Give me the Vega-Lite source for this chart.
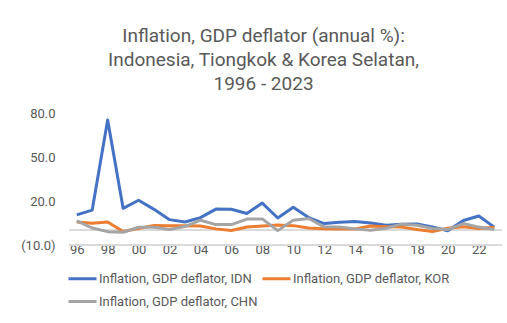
{
  "$schema": "https://vega.github.io/schema/vega-lite/v6.json",
  "autosize": {"type": "none"},
  "width": 433,
  "height": 132,
  "padding": {"left": 69, "top": 113, "right": 5, "bottom": 78},
  "background": "white",
  "config": {
    "font": "Roboto",
    "view": {"stroke": null},
    "axis": {"labelFont": "Roboto", "labelColor": "#595959", "labelFontSize": 13}
  },
  "title": {
    "text": ["Inflation, GDP deflator (annual %):", "Indonesia, Tiongkok & Korea Selatan,", "1996 - 2023"],
    "font": "Roboto",
    "fontSize": 19,
    "fontWeight": "normal",
    "color": "#595959",
    "lineHeight": 24,
    "anchor": "middle",
    "dx": -22,
    "offset": 13
  },
  "data": {
    "values": [
      {"year": 1996, "series": "Inflation, GDP deflator, IDN", "value": 10.5},
      {"year": 1997, "series": "Inflation, GDP deflator, IDN", "value": 13.8},
      {"year": 1998, "series": "Inflation, GDP deflator, IDN", "value": 75.3},
      {"year": 1999, "series": "Inflation, GDP deflator, IDN", "value": 15.0},
      {"year": 2000, "series": "Inflation, GDP deflator, IDN", "value": 20.5},
      {"year": 2001, "series": "Inflation, GDP deflator, IDN", "value": 14.3},
      {"year": 2002, "series": "Inflation, GDP deflator, IDN", "value": 7.3},
      {"year": 2003, "series": "Inflation, GDP deflator, IDN", "value": 5.7},
      {"year": 2004, "series": "Inflation, GDP deflator, IDN", "value": 8.7},
      {"year": 2005, "series": "Inflation, GDP deflator, IDN", "value": 14.5},
      {"year": 2006, "series": "Inflation, GDP deflator, IDN", "value": 14.4},
      {"year": 2007, "series": "Inflation, GDP deflator, IDN", "value": 11.5},
      {"year": 2008, "series": "Inflation, GDP deflator, IDN", "value": 18.6},
      {"year": 2009, "series": "Inflation, GDP deflator, IDN", "value": 8.4},
      {"year": 2010, "series": "Inflation, GDP deflator, IDN", "value": 15.8},
      {"year": 2011, "series": "Inflation, GDP deflator, IDN", "value": 8.7},
      {"year": 2012, "series": "Inflation, GDP deflator, IDN", "value": 4.6},
      {"year": 2013, "series": "Inflation, GDP deflator, IDN", "value": 5.5},
      {"year": 2014, "series": "Inflation, GDP deflator, IDN", "value": 6.0},
      {"year": 2015, "series": "Inflation, GDP deflator, IDN", "value": 5.0},
      {"year": 2016, "series": "Inflation, GDP deflator, IDN", "value": 3.4},
      {"year": 2017, "series": "Inflation, GDP deflator, IDN", "value": 4.2},
      {"year": 2018, "series": "Inflation, GDP deflator, IDN", "value": 4.4},
      {"year": 2019, "series": "Inflation, GDP deflator, IDN", "value": 2.3},
      {"year": 2020, "series": "Inflation, GDP deflator, IDN", "value": -0.3},
      {"year": 2021, "series": "Inflation, GDP deflator, IDN", "value": 6.7},
      {"year": 2022, "series": "Inflation, GDP deflator, IDN", "value": 9.8},
      {"year": 2023, "series": "Inflation, GDP deflator, IDN", "value": 2.2},
      {"year": 1996, "series": "Inflation, GDP deflator, KOR", "value": 5.6},
      {"year": 1997, "series": "Inflation, GDP deflator, KOR", "value": 4.8},
      {"year": 1998, "series": "Inflation, GDP deflator, KOR", "value": 5.7},
      {"year": 1999, "series": "Inflation, GDP deflator, KOR", "value": -0.8},
      {"year": 2000, "series": "Inflation, GDP deflator, KOR", "value": 1.3},
      {"year": 2001, "series": "Inflation, GDP deflator, KOR", "value": 3.3},
      {"year": 2002, "series": "Inflation, GDP deflator, KOR", "value": 3.1},
      {"year": 2003, "series": "Inflation, GDP deflator, KOR", "value": 3.2},
      {"year": 2004, "series": "Inflation, GDP deflator, KOR", "value": 3.0},
      {"year": 2005, "series": "Inflation, GDP deflator, KOR", "value": 1.0},
      {"year": 2006, "series": "Inflation, GDP deflator, KOR", "value": -0.1},
      {"year": 2007, "series": "Inflation, GDP deflator, KOR", "value": 2.3},
      {"year": 2008, "series": "Inflation, GDP deflator, KOR", "value": 3.0},
      {"year": 2009, "series": "Inflation, GDP deflator, KOR", "value": 3.6},
      {"year": 2010, "series": "Inflation, GDP deflator, KOR", "value": 3.2},
      {"year": 2011, "series": "Inflation, GDP deflator, KOR", "value": 1.6},
      {"year": 2012, "series": "Inflation, GDP deflator, KOR", "value": 1.0},
      {"year": 2013, "series": "Inflation, GDP deflator, KOR", "value": 0.9},
      {"year": 2014, "series": "Inflation, GDP deflator, KOR", "value": 0.9},
      {"year": 2015, "series": "Inflation, GDP deflator, KOR", "value": 2.9},
      {"year": 2016, "series": "Inflation, GDP deflator, KOR", "value": 2.5},
      {"year": 2017, "series": "Inflation, GDP deflator, KOR", "value": 2.2},
      {"year": 2018, "series": "Inflation, GDP deflator, KOR", "value": 0.5},
      {"year": 2019, "series": "Inflation, GDP deflator, KOR", "value": -0.8},
      {"year": 2020, "series": "Inflation, GDP deflator, KOR", "value": 1.4},
      {"year": 2021, "series": "Inflation, GDP deflator, KOR", "value": 2.5},
      {"year": 2022, "series": "Inflation, GDP deflator, KOR", "value": 1.2},
      {"year": 2023, "series": "Inflation, GDP deflator, KOR", "value": 2.1},
      {"year": 1996, "series": "Inflation, GDP deflator, CHN", "value": 6.5},
      {"year": 1997, "series": "Inflation, GDP deflator, CHN", "value": 1.6},
      {"year": 1998, "series": "Inflation, GDP deflator, CHN", "value": -0.9},
      {"year": 1999, "series": "Inflation, GDP deflator, CHN", "value": -1.3},
      {"year": 2000, "series": "Inflation, GDP deflator, CHN", "value": 2.1},
      {"year": 2001, "series": "Inflation, GDP deflator, CHN", "value": 2.1},
      {"year": 2002, "series": "Inflation, GDP deflator, CHN", "value": 0.6},
      {"year": 2003, "series": "Inflation, GDP deflator, CHN", "value": 2.6},
      {"year": 2004, "series": "Inflation, GDP deflator, CHN", "value": 6.9},
      {"year": 2005, "series": "Inflation, GDP deflator, CHN", "value": 3.9},
      {"year": 2006, "series": "Inflation, GDP deflator, CHN", "value": 3.9},
      {"year": 2007, "series": "Inflation, GDP deflator, CHN", "value": 7.7},
      {"year": 2008, "series": "Inflation, GDP deflator, CHN", "value": 7.8},
      {"year": 2009, "series": "Inflation, GDP deflator, CHN", "value": -0.2},
      {"year": 2010, "series": "Inflation, GDP deflator, CHN", "value": 6.9},
      {"year": 2011, "series": "Inflation, GDP deflator, CHN", "value": 8.1},
      {"year": 2012, "series": "Inflation, GDP deflator, CHN", "value": 2.4},
      {"year": 2013, "series": "Inflation, GDP deflator, CHN", "value": 2.2},
      {"year": 2014, "series": "Inflation, GDP deflator, CHN", "value": 1.0},
      {"year": 2015, "series": "Inflation, GDP deflator, CHN", "value": 0.0},
      {"year": 2016, "series": "Inflation, GDP deflator, CHN", "value": 1.4},
      {"year": 2017, "series": "Inflation, GDP deflator, CHN", "value": 4.2},
      {"year": 2018, "series": "Inflation, GDP deflator, CHN", "value": 3.5},
      {"year": 2019, "series": "Inflation, GDP deflator, CHN", "value": 1.3},
      {"year": 2020, "series": "Inflation, GDP deflator, CHN", "value": 0.5},
      {"year": 2021, "series": "Inflation, GDP deflator, CHN", "value": 4.6},
      {"year": 2022, "series": "Inflation, GDP deflator, CHN", "value": 2.2},
      {"year": 2023, "series": "Inflation, GDP deflator, CHN", "value": 0.6}
    ]
  },
  "layer": [
    {
      "mark": {"type": "rule", "color": "#D9D9D9", "strokeWidth": 1},
      "encoding": {"y": {"datum": 0, "type": "quantitative"}}
    },
    {
      "mark": {"type": "rule", "color": "#D9D9D9", "strokeWidth": 1},
      "encoding": {"y": {"datum": -10, "type": "quantitative"}}
    },
    {
      "mark": {"type": "line", "strokeWidth": 3, "strokeJoin": "round"},
      "encoding": {
        "x": {
          "field": "year",
          "type": "ordinal",
          "scale": {"type": "point", "padding": 0.5},
          "axis": {
            "title": null,
            "domain": false,
            "ticks": false,
            "grid": false,
            "labelAngle": 0,
            "labelOverlap": false,
            "labelBaseline": "middle",
            "labelPadding": 4,
            "labelExpr": "datum.value % 2 == 0 ? slice(toString(datum.value), 2) : ''"
          }
        },
        "y": {
          "field": "value",
          "type": "quantitative",
          "scale": {"domain": [-10, 80], "nice": false, "zero": false},
          "axis": {
            "title": null,
            "values": [-10, 20, 50, 80],
            "domain": false,
            "ticks": false,
            "gridColor": "#D9D9D9",
            "labelPadding": 14,
            "labelExpr": "datum.value < 0 ? '(' + format(-datum.value, '.1f') + ')' : format(datum.value, '.1f')"
          }
        },
        "color": {
          "field": "series",
          "type": "nominal",
          "sort": ["Inflation, GDP deflator, IDN", "Inflation, GDP deflator, KOR", "Inflation, GDP deflator, CHN"],
          "scale": {
            "domain": ["Inflation, GDP deflator, IDN", "Inflation, GDP deflator, KOR", "Inflation, GDP deflator, CHN"],
            "range": ["#4472C4", "#ED7D31", "#A5A5A5"]
          },
          "legend": {
            "title": null,
            "orient": "none",
            "legendX": -2,
            "legendY": 150,
            "direction": "horizontal",
            "columns": 2,
            "columnPadding": -2,
            "rowPadding": -2,
            "symbolType": "stroke",
            "symbolSize": 784,
            "symbolStrokeWidth": 3,
            "labelOffset": 1,
            "labelFont": "Roboto",
            "labelFontSize": 13,
            "labelColor": "#595959",
            "labelLimit": 300
          }
        }
      }
    }
  ]
}
